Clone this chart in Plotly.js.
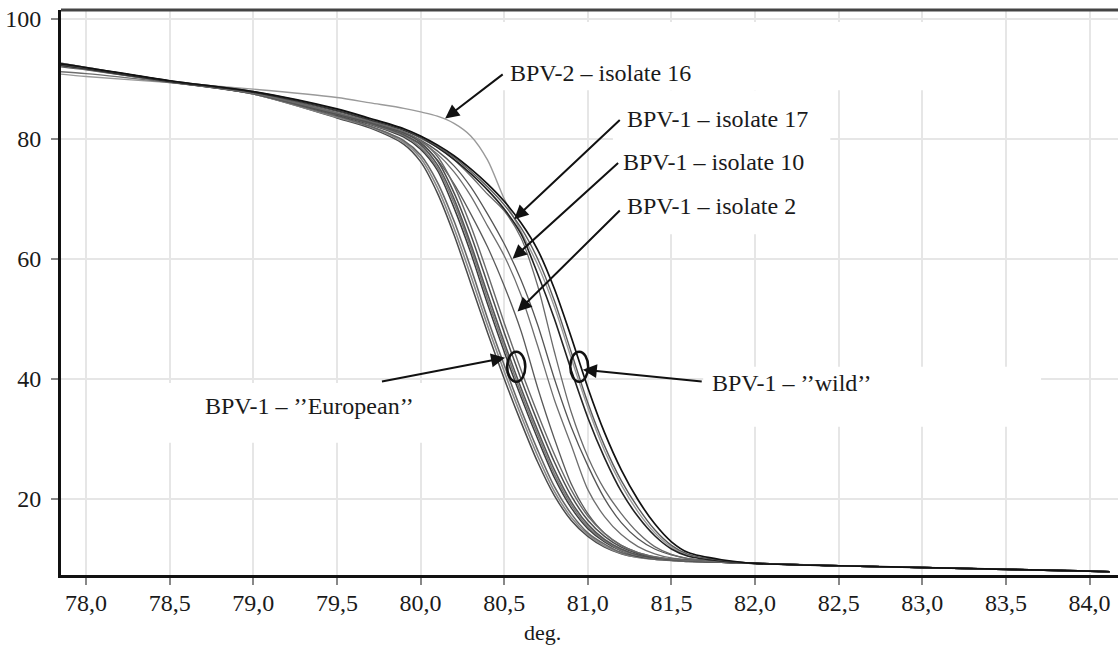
<!DOCTYPE html>
<html>
<head>
<meta charset="utf-8">
<script src="https://cdn.plot.ly/plotly-3.0.1.min.js"></script>
<style>html,body{margin:0;padding:0;background:#fff;}#chart{width:1118px;height:650px;}</style>
</head>
<body>
<div id="chart"></div>
<script>
// Temperature (deg.) sample points shared by all melting curves
const temps = [77.85, 78.0, 78.5, 79.0, 79.5, 79.7, 79.9, 80.0, 80.1, 80.2, 80.3, 80.4, 80.5, 80.6, 80.7, 80.8, 80.9, 81.0, 81.1, 81.2, 81.3, 81.4, 81.5, 81.6, 81.8, 82.0, 82.5, 83.0, 83.5, 84.0, 84.12];

// BPV-1 "European" cluster
const european1 = [92.6, 91.9, 89.6, 87.5, 83.5, 81.8, 79.1, 76.2, 71.0, 64.0, 55.9, 47.7, 40.0, 32.8, 26.1, 20.5, 16.4, 13.7, 11.9, 10.8, 10.2, 9.9, 9.7, 9.5, 9.4, 9.2, 8.8, 8.5, 8.2, 7.9, 7.8];
const european8 = [92.6, 91.9, 89.6, 87.5, 83.6, 82.0, 79.4, 76.8, 71.9, 65.1, 57.2, 48.9, 41.2, 33.9, 27.1, 21.2, 16.9, 14.0, 12.1, 10.9, 10.2, 9.9, 9.7, 9.5, 9.4, 9.2, 8.8, 8.5, 8.2, 7.9, 7.8];
const european2 = [92.5, 91.8, 89.6, 87.5, 83.8, 82.1, 79.7, 77.3, 72.8, 66.3, 58.5, 50.1, 42.3, 34.9, 28.1, 22.0, 17.5, 14.3, 12.4, 11.0, 10.3, 9.9, 9.7, 9.6, 9.4, 9.2, 8.8, 8.5, 8.2, 7.9, 7.8];
const european3 = [92.5, 91.8, 89.6, 87.6, 84.0, 82.4, 80.3, 78.3, 74.8, 68.5, 61.0, 52.5, 44.5, 37.0, 30.0, 23.5, 18.5, 15.0, 12.8, 11.3, 10.4, 10.0, 9.8, 9.6, 9.4, 9.2, 8.8, 8.5, 8.2, 7.9, 7.8];
const european7 = [92.5, 91.8, 89.6, 87.6, 84.1, 82.5, 80.5, 78.6, 75.2, 69.3, 61.8, 53.3, 45.3, 37.7, 30.7, 24.1, 19.0, 15.3, 13.0, 11.4, 10.5, 10.0, 9.8, 9.6, 9.4, 9.2, 8.8, 8.5, 8.2, 7.9, 7.8];
const european4 = [92.4, 91.8, 89.6, 87.6, 84.1, 82.6, 80.7, 79.0, 75.7, 70.0, 62.5, 54.2, 46.1, 38.5, 31.4, 24.8, 19.5, 15.7, 13.2, 11.6, 10.6, 10.1, 9.8, 9.6, 9.4, 9.2, 8.8, 8.5, 8.2, 7.9, 7.8];
const european5 = [92.3, 91.7, 89.5, 87.6, 84.2, 82.8, 81.0, 79.4, 76.4, 71.0, 64.0, 55.9, 47.7, 40.0, 32.8, 26.1, 20.5, 16.4, 13.7, 11.9, 10.8, 10.2, 9.9, 9.7, 9.4, 9.2, 8.8, 8.5, 8.2, 7.9, 7.8];
const european6 = [92.2, 91.6, 89.5, 87.6, 84.3, 82.9, 81.2, 79.7, 77.1, 72.2, 65.5, 57.6, 49.3, 41.5, 34.2, 27.4, 21.5, 17.1, 14.2, 12.2, 11.0, 10.3, 9.9, 9.7, 9.4, 9.2, 8.8, 8.5, 8.2, 7.9, 7.8];

// Intermediate isolates
const isolate2  = [92.0, 91.5, 89.5, 87.6, 84.2, 82.6, 80.5, 79.2, 76.5, 72.5, 67.5, 62.0, 55.5, 48.0, 38.5, 30.0, 22.5, 17.5, 14.2, 12.2, 11.0, 10.3, 9.9, 9.7, 9.4, 9.2, 8.8, 8.5, 8.2, 7.9, 7.8];
const isolate10 = [91.2, 90.9, 89.4, 87.7, 84.4, 82.8, 80.9, 79.6, 77.5, 74.5, 70.5, 65.5, 60.5, 54.0, 45.5, 36.5, 29.0, 21.5, 17.0, 14.0, 12.0, 10.8, 10.1, 9.8, 9.5, 9.2, 8.8, 8.5, 8.2, 7.9, 7.8];
const isolateX  = [92.3, 91.7, 89.6, 87.7, 84.6, 83.0, 81.1, 79.8, 78.0, 75.5, 72.0, 67.5, 62.5, 56.5, 49.0, 40.0, 32.0, 25.5, 20.0, 16.0, 13.3, 11.6, 10.6, 10.0, 9.5, 9.2, 8.8, 8.5, 8.2, 7.9, 7.8];
const isolate17 = [92.4, 91.8, 89.6, 87.8, 84.8, 83.2, 81.4, 80.1, 78.6, 76.5, 73.8, 70.8, 68.0, 63.5, 55.5, 44.5, 34.5, 27.0, 21.5, 17.5, 14.3, 12.0, 10.7, 10.0, 9.5, 9.2, 8.8, 8.5, 8.2, 7.9, 7.8];

// BPV-1 "wild" group
const wild1 = [92.3, 91.7, 89.6, 87.8, 84.8, 83.2, 81.5, 80.3, 78.6, 76.6, 74.2, 71.5, 68.3, 64.2, 57.5, 50.0, 41.5, 33.5, 26.8, 21.2, 17.0, 13.8, 11.6, 10.4, 9.6, 9.2, 8.8, 8.5, 8.2, 7.9, 7.8];
const wild2 = [92.4, 91.8, 89.7, 87.9, 84.9, 83.3, 81.6, 80.4, 78.8, 76.9, 74.6, 72.0, 69.0, 65.2, 60.0, 53.0, 44.5, 36.0, 28.8, 23.0, 18.5, 14.8, 12.2, 10.7, 9.7, 9.2, 8.8, 8.5, 8.2, 7.9, 7.8];
const wild3 = [92.5, 91.9, 89.7, 87.9, 85.0, 83.4, 81.7, 80.5, 79.0, 77.2, 75.0, 72.5, 69.6, 66.0, 61.5, 55.0, 47.0, 38.5, 31.0, 24.8, 19.8, 15.8, 12.8, 11.0, 9.8, 9.2, 8.8, 8.5, 8.2, 7.9, 7.8];

// BPV-2 isolate 16
const isolate16 = [90.8, 90.4, 89.4, 88.3, 86.9, 86.0, 85.1, 84.5, 83.8, 82.6, 80.5, 76.5, 70.0, 64.6, 59.0, 52.0, 43.5, 35.2, 28.0, 22.3, 17.8, 14.3, 11.9, 10.5, 9.6, 9.2, 8.8, 8.5, 8.2, 7.9, 7.8];

// Axis ticks
const xTicks = [78.0, 78.5, 79.0, 79.5, 80.0, 80.5, 81.0, 81.5, 82.0, 82.5, 83.0, 83.5, 84.0];
const yTicks = [20, 40, 60, 80, 100];

const serif = '"Liberation Serif", "DejaVu Serif", serif';

function curve(y, color, width) {
  return {x: temps, y: y, type: 'scatter', mode: 'lines',
    line: {color: color, width: width, shape: 'spline', smoothing: 0.8},
    hoverinfo: 'skip', showlegend: false};
}

const traces = [
  curve(isolate16, '#9a9a9a', 1.4),
  curve(isolate10, '#6e6e6e', 1.3),
  curve(isolateX, '#555555', 1.3),
  curve(isolate2, '#5a5a5a', 1.3),
  curve(european1, '#4a4a4a', 1.5),
  curve(european8, '#8a8a8a', 1.6),
  curve(european2, '#666666', 1.6),
  curve(european3, '#3c3c3c', 1.5),
  curve(european7, '#7a7a7a', 1.6),
  curve(european4, '#555555', 1.6),
  curve(european5, '#4d4d4d', 1.5),
  curve(european6, '#6a6a6a', 1.4),
  curve(isolate17, '#6a6a6a', 1.3),
  curve(wild1, '#222222', 1.6),
  curve(wild2, '#5a5a5a', 1.4),
  curve(wild3, '#111111', 1.7)
];

function arrow(tipX, tipY, tailX, tailY) {
  return {x: tipX, y: tipY, ax: tailX, ay: tailY, xref: 'x', yref: 'y', axref: 'x', ayref: 'y',
    text: '', showarrow: true, arrowhead: 2, arrowsize: 1.4, arrowwidth: 2, arrowcolor: '#111'};
}
function label(txt, x, y, anchor) {
  return {x: x, y: y, xref: 'x', yref: 'y', text: txt, showarrow: false,
    xanchor: anchor, yanchor: 'middle', font: {family: serif, size: 24, color: '#1a1a1a'}};
}

const annotations = [
  arrow(80.147, 83.4, 80.5, 90.95),
  label('BPV-2 – isolate 16', 80.52, 91.0, 'left'),
  arrow(80.56, 66.6, 81.2, 83.4),
  label('BPV-1 – isolate 17', 81.22, 83.4, 'left'),
  arrow(80.55, 60.0, 81.19, 76.2),
  label('BPV-1 – isolate 10', 81.2, 76.2, 'left'),
  arrow(80.58, 51.2, 81.2, 68.3),
  label('BPV-1 – isolate 2', 81.22, 68.8, 'left'),
  arrow(80.505, 43.5, 79.76, 39.5),
  label('BPV-1 – ’’European’’', 79.334, 35.5, 'center'),
  arrow(80.97, 41.5, 81.69, 39.5),
  label('BPV-1 – ’’wild’’', 81.73, 39.3, 'left'),
  {x: 0.456, y: -0.101, xref: 'paper', yref: 'paper', text: 'deg.', showarrow: false,
    xanchor: 'center', yanchor: 'middle', font: {family: serif, size: 22, color: '#1a1a1a'}}
];

const shapes = [
  // white label backgrounds that interrupt the grid
  {type: 'rect', layer: 'between', xref: 'x', yref: 'y', x0: 78.47, x1: 80.3, y0: 29.3, y1: 39.3, fillcolor: '#ffffff', line: {width: 0}},
  {type: 'rect', layer: 'between', xref: 'x', yref: 'y', x0: 81.69, x1: 83.71, y0: 32.0, y1: 42.0, fillcolor: '#ffffff', line: {width: 0}},
  {type: 'rect', layer: 'between', xref: 'x', yref: 'y', x0: 80.45, x1: 83.05, y0: 88.1, y1: 99.5, fillcolor: '#ffffff', line: {width: 0}},
  {type: 'rect', layer: 'between', xref: 'x', yref: 'y', x0: 81.15, x1: 82.45, y0: 64.1, y1: 88.1, fillcolor: '#ffffff', line: {width: 0}},
  // ellipses marking groups
  {type: 'circle', xref: 'x', yref: 'y', x0: 80.518, x1: 80.626, y0: 39.5, y1: 44.5, line: {color: '#111', width: 2.5}},
  {type: 'circle', xref: 'x', yref: 'y', x0: 80.895, x1: 81.002, y0: 39.5, y1: 44.5, line: {color: '#111', width: 2.5}},
  // top frame line
  {type: 'line', xref: 'paper', yref: 'paper', x0: 0, x1: 1, y0: 1, y1: 1, line: {color: '#444', width: 3}}
];

const layout = {
  width: 1118, height: 650,
  margin: {l: 61, r: 0, t: 10, b: 75, pad: 0},
  paper_bgcolor: '#ffffff', plot_bgcolor: '#ffffff',
  separators: ', ',
  showlegend: false,
  font: {family: serif},
  xaxis: {
    range: [77.85, 84.17], tickvals: xTicks, tickformat: '.1f',
    ticks: 'outside', ticklen: 7, tickwidth: 2, tickcolor: '#888',
    ticklabelstandoff: -3,
    tickfont: {family: serif, size: 24, color: '#1a1a1a'},
    showgrid: true, gridcolor: '#e6e6e6', gridwidth: 2,
    zeroline: false, showline: true, linecolor: '#111', linewidth: 3
  },
  yaxis: {
    range: [7.26, 101.5], tickvals: yTicks,
    ticks: 'outside', ticklen: 7, tickwidth: 2, tickcolor: '#888',
    ticklabelstandoff: 5,
    tickfont: {family: serif, size: 24, color: '#1a1a1a'},
    showgrid: true, gridcolor: '#e6e6e6', gridwidth: 2,
    zeroline: false, showline: true, linecolor: '#111', linewidth: 3
  },
  annotations: annotations,
  shapes: shapes
};

Plotly.newPlot('chart', traces, layout, {displayModeBar: false, staticPlot: true});
</script>
</body>
</html>
